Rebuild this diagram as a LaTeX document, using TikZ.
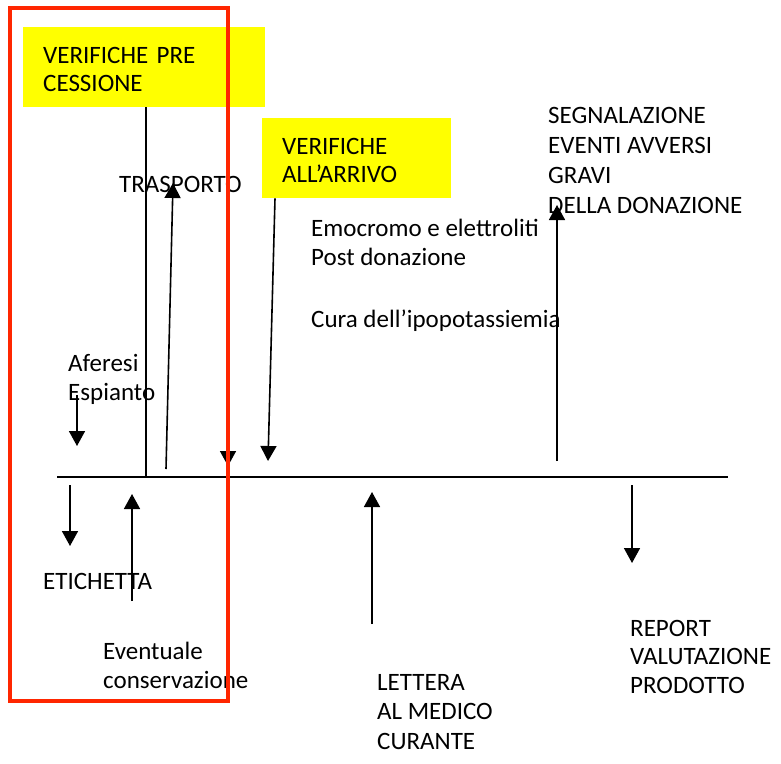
\documentclass[tikz,border=0pt]{standalone}
\usepackage{fontspec}
\setmainfont{Carlito}
\usepackage{tikz}
\usetikzlibrary{arrows.meta,positioning}
\definecolor{boxyellow}{RGB}{255,255,0}
\definecolor{framered}{RGB}{255,38,0}
\tikzstyle{lbl} = [inner sep=0pt, anchor=base west, align=left,
    font=\fontsize{25}{28.5}\selectfont]
\tikzstyle{ybox} = [fill=boxyellow, anchor=north west, inner xsep=20pt,
    inner ysep=0pt, minimum height=80pt, align=left,
    font=\fontsize{25}{28}\selectfont]
\tikzstyle{line} = [line width=1.6pt]
\tikzstyle{arrow} = [line width=1.6pt,-{Triangle[width=16pt,length=15pt]}]

\begin{document}
\begin{tikzpicture}[x=1pt,y=-1pt]
\useasboundingbox (0,0) rectangle (781,763);
% Checks
\node[ybox, text width=202pt] (pre) at (23,27) {\rule{0pt}{21pt}VERIFICHE PRE\\CESSIONE};
\node[ybox, text width=149pt] (arrivo) at (262,118) {\rule{0pt}{21pt}VERIFICHE\\ALL’ARRIVO};
% Timeline
\coordinate (tl_l) at (57,477);
\coordinate (tl_r) at (728,477);
\draw[line] (tl_l) -- (tl_r);
\draw[line] ([xshift=2pt]pre.south) -- ([xshift=2pt]pre.south |- tl_l);
% Labels above (base = last line)
\node[lbl] (aferesi) at (68,400) {Aferesi\\Espianto};
\node[lbl] (trasporto) at (119,192) {TRASPORTO};
\node[lbl] (emocromo) at (311,265) {Emocromo e elettroliti\\Post donazione};
\node[lbl] (cura) at (311,327) {Cura dell’ipopotassiemia};
\node[lbl, font=\fontsize{25}{30}\selectfont] (segnal) at (548,213) {SEGNALAZIONE\\EVENTI AVVERSI\\GRAVI\\DELLA DONAZIONE};
% Labels below
\node[lbl] (etichetta) at (43,589) {ETICHETTA};
\node[lbl] (eventuale) at (103,688) {Eventuale\\conservazione};
\node[lbl, font=\fontsize{25}{29.5}\selectfont] (lettera) at (377,749) {LETTERA\\AL MEDICO\\CURANTE};
\node[lbl] (report) at (630,693) {REPORT\\VALUTAZIONE\\PRODOTTO};
% Arrow ends
\coordinate (af_a) at (77,395);   \coordinate (af_b) at (77,446);
\coordinate (tr_a) at (166,469);  \coordinate (tr_b) at (173,183);
\coordinate (mid_a) at (228,440); \coordinate (mid_b) at (228,466);
\coordinate (ar_b) at (268,461);
\coordinate (se_a) at (557,461);  \coordinate (se_b) at (557,205);
\coordinate (et_a) at (70,485);   \coordinate (et_b) at (70,546);
\coordinate (ev_a) at (132,601);  \coordinate (ev_b) at (132,494);
\coordinate (le_a) at (372,624);  \coordinate (le_b) at (372,492);
\coordinate (re_a) at (632,485);  \coordinate (re_b) at (632,563);
% Arrows
\draw[arrow] (af_a) -- (af_b);
\draw[arrow] (tr_a) -- (tr_b);
\draw[arrow] (mid_a) -- (mid_b);
\draw[arrow] ([xshift=13pt]arrivo.south west) -- (ar_b);
\draw[arrow] (se_a) -- (se_b);
\draw[arrow] (et_a) -- (et_b);
\draw[arrow] (ev_a) -- (ev_b);
\draw[arrow] (le_a) -- (le_b);
\draw[arrow] (re_a) -- (re_b);
% Frame
\draw[framered, line width=4pt] (9.5,7.5) rectangle (228,701);
\end{tikzpicture}
\end{document}
